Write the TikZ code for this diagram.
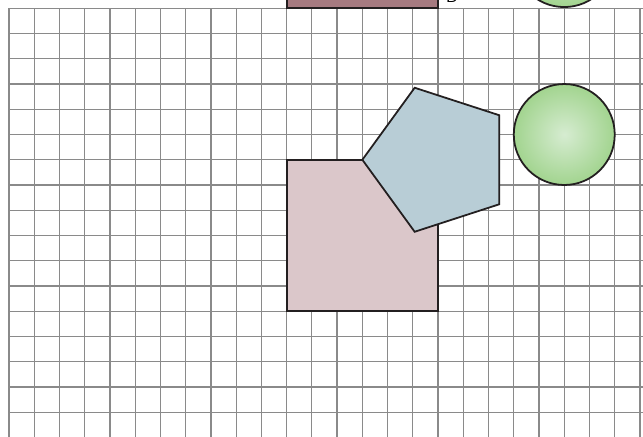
\documentclass[tikz,border=0pt]{standalone}
\usepackage{xcolor}
\usepackage{tikz}
\usetikzlibrary{positioning}
\definecolor{gridgray}{HTML}{8A8A8A}
\definecolor{edgeblack}{HTML}{231F20}
\definecolor{mauvedark}{HTML}{A67A80}
\definecolor{mauvelight}{HTML}{DBC7CA}
\definecolor{pentblue}{HTML}{B8CDD6}
\definecolor{greenin}{HTML}{D6ECD1}
\definecolor{greenout}{HTML}{A2D48F}

\begin{document}
\begin{tikzpicture}[x=0.5cm, y=-0.5cm,
  gridline/.style={gridgray, line width=0.7pt},
  shapeedge/.style={draw=edgeblack, line width=1pt, line join=miter},
  ballshade/.style={inner color=greenin, outer color=greenout}]
  % Frame (margins of the page) and clipping
  \useasboundingbox (-0.357,-0.33) rectangle (25.12,16.95);
  \clip (-0.357,-0.33) rectangle (25.12,16.95);

  % Squared paper
  \foreach \i in {0,...,25} {
    \draw[gridline] (\i,0) -- (\i,18);
  }
  \foreach \j in {0,...,17} {
    \draw[gridline] (0,\j) -- (26,\j);
  }

  % Shapes cut off at the top
  \fill[mauvedark] (11,-3) rectangle (17,0);
  \draw[shapeedge] (11,-3) -- (11,0) -- (17,0) -- (17,-3);
  \node[anchor=south west, inner sep=0pt, font=\sffamily] (lblB) at (17.3,-0.2) {B};
  \shade[ballshade] (22,-2.05) circle (2);
  \draw[shapeedge] (22,-2.05) circle (2);

  % Square
  \draw[shapeedge, fill=mauvelight] (11,6) rectangle (17,12);

  % Pentagon centred on the square's corner
  \begin{scope}[shift={(17,6)}]
    \draw[shapeedge, fill=pentblue]
      (180:3) -- (252:3) -- (324:3) -- (36:3) -- (108:3) -- cycle;
  \end{scope}

  % Circle
  \shade[ballshade] (22,5) circle (2);
  \draw[shapeedge] (22,5) circle (2);
\end{tikzpicture}
\end{document}
